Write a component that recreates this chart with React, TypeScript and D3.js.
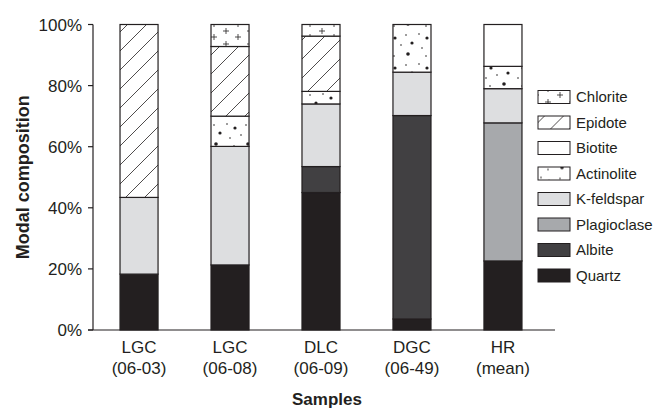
import React from 'react';
import * as d3 from 'd3';

const samples = ['LGC|(06-03)', 'LGC|(06-08)', 'DLC|(06-09)', 'DGC|(06-49)', 'HR|(mean)'];
const minerals = ['Quartz', 'Albite', 'Plagioclase', 'K-feldspar', 'Actinolite', 'Biotite', 'Epidote', 'Chlorite'];

const quartz = [18.3, 21.3, 45.0, 3.6, 22.6];
const albite = [0, 0, 8.5, 66.6, 0];
const plagioclase = [0, 0, 0, 0, 45.2];
const kfeldspar = [25.1, 38.8, 20.5, 14.2, 11.2];
const actinolite = [0, 9.9, 4.1, 15.6, 7.3];
const biotite = [0, 0, 0, 0, 13.7];
const epidote = [56.6, 22.8, 18.1, 0, 0];
const chlorite = [0, 7.2, 3.8, 0, 0];

const yTicks = [0, 20, 40, 60, 80, 100];

const fills: Record<string, string> = {
  Quartz: '#231f20',
  Albite: '#414042',
  Plagioclase: '#a7a9ac',
  'K-feldspar': '#dddee0',
  Actinolite: 'url(#pat-dots)',
  Biotite: '#ffffff',
  Epidote: 'url(#pat-hatch)',
  Chlorite: 'url(#pat-plus)',
};

const W = 659;
const H = 408;
const font = '"Liberation Sans", Arial, sans-serif';

export default function App() {
  const rows = samples.map((s, i) => ({
    sample: s,
    Quartz: quartz[i],
    Albite: albite[i],
    Plagioclase: plagioclase[i],
    'K-feldspar': kfeldspar[i],
    Actinolite: actinolite[i],
    Biotite: biotite[i],
    Epidote: epidote[i],
    Chlorite: chlorite[i],
  }));

  const stack = d3.stack<any>().keys(minerals);
  const series = stack(rows);

  const x = d3.scaleBand().domain(samples).range([93, 549]).paddingInner(0.582).paddingOuter(0.297);
  const y = d3.scaleLinear().domain([0, 100]).range([330, 24.5]);

  // legend goes top to bottom in reverse stacking order
  const legendItems = minerals.slice().reverse();
  const ly = d3.scalePoint().domain(legendItems).range([97, 275.5]);

  return (
    <svg width={W} height={H} style={{ position: 'absolute', left: 0, top: 0 }} fontFamily={font}>
      <defs>
        <pattern id="pat-hatch" patternUnits="userSpaceOnUse" width={19} height={19}>
          <rect width={19} height={19} fill="#fff" />
          <path d="M-2,21 L21,-2 M-2,2 L2,-2 M17,21 L21,17" stroke="#231f20" strokeWidth={0.8} />
        </pattern>
        <pattern id="pat-plus" patternUnits="userSpaceOnUse" width={24} height={13} x={4} y={2}>
          <rect width={24} height={13} fill="#fff" />
          <path d="M3,3 h6 M6,0 v6 M15,9 h6 M18,6 v6" stroke="#231f20" strokeWidth={0.8} />
        </pattern>
        <pattern id="pat-dots" patternUnits="userSpaceOnUse" width={32} height={30}>
          <rect width={32} height={30} fill="#fff" />
          <circle cx={3} cy={4} r={0.8} fill="#231f20" />
          <circle cx={11} cy={8} r={1.6} fill="#231f20" />
          <circle cx={22} cy={5} r={0.8} fill="#231f20" />
          <circle cx={28} cy={13} r={1.6} fill="#231f20" />
          <circle cx={6} cy={18} r={0.8} fill="#231f20" />
          <circle cx={17} cy={15} r={0.8} fill="#231f20" />
          <circle cx={24} cy={24} r={1.8} fill="#231f20" />
          <circle cx={10} cy={26} r={0.8} fill="#231f20" />
        </pattern>
      </defs>

      {series.map((s) =>
        s.map((d, i) => {
          const h = y(d[0]) - y(d[1]);
          if (h <= 0) return null;
          return (
            <rect
              key={s.key + i}
              x={x(samples[i])}
              y={y(d[1])}
              width={x.bandwidth()}
              height={h}
              fill={fills[s.key]}
              stroke="#231f20"
              strokeWidth={1.2}
            />
          );
        })
      )}

      {/* y axis */}
      <line x1={93} x2={93} y1={y(100)} y2={y(0)} stroke="#231f20" strokeWidth={1.2} />
      {yTicks.map((t) => (
        <g key={t}>
          <line x1={88} x2={93} y1={y(t)} y2={y(t)} stroke="#231f20" strokeWidth={1.2} />
          <text x={82} y={y(t)} dy="0.36em" textAnchor="end" fontSize={17} fill="#231f20">
            {t}%
          </text>
        </g>
      ))}
      <text
        transform={`translate(29,${(y(0) + y(100)) / 2}) rotate(-90)`}
        textAnchor="middle"
        fontSize={18}
        fontWeight="bold"
        fill="#231f20"
      >
        Modal composition
      </text>

      {/* x axis */}
      <line x1={88} x2={555} y1={y(0)} y2={y(0)} stroke="#231f20" strokeWidth={1.2} />
      {samples.map((s) => {
        const [a, b] = s.split('|');
        const cx = (x(s) as number) + x.bandwidth() / 2;
        return (
          <text key={s} x={cx} textAnchor="middle" fontSize={17} fill="#231f20">
            <tspan x={cx} y={353}>{a}</tspan>
            <tspan x={cx} y={374}>{b}</tspan>
          </text>
        );
      })}
      <text x={327} y={405} textAnchor="middle" fontSize={17} fontWeight="bold" fill="#231f20">
        Samples
      </text>

      {/* legend */}
      {legendItems.map((m) => (
        <g key={m} transform={`translate(538,${ly(m)})`}>
          <rect x={0} y={-6.5} width={32} height={13} fill={fills[m]} stroke="#231f20" strokeWidth={1} />
          <text x={38} y={0} dy="0.36em" fontSize={15} fill="#231f20">
            {m}
          </text>
        </g>
      ))}
    </svg>
  );
}
